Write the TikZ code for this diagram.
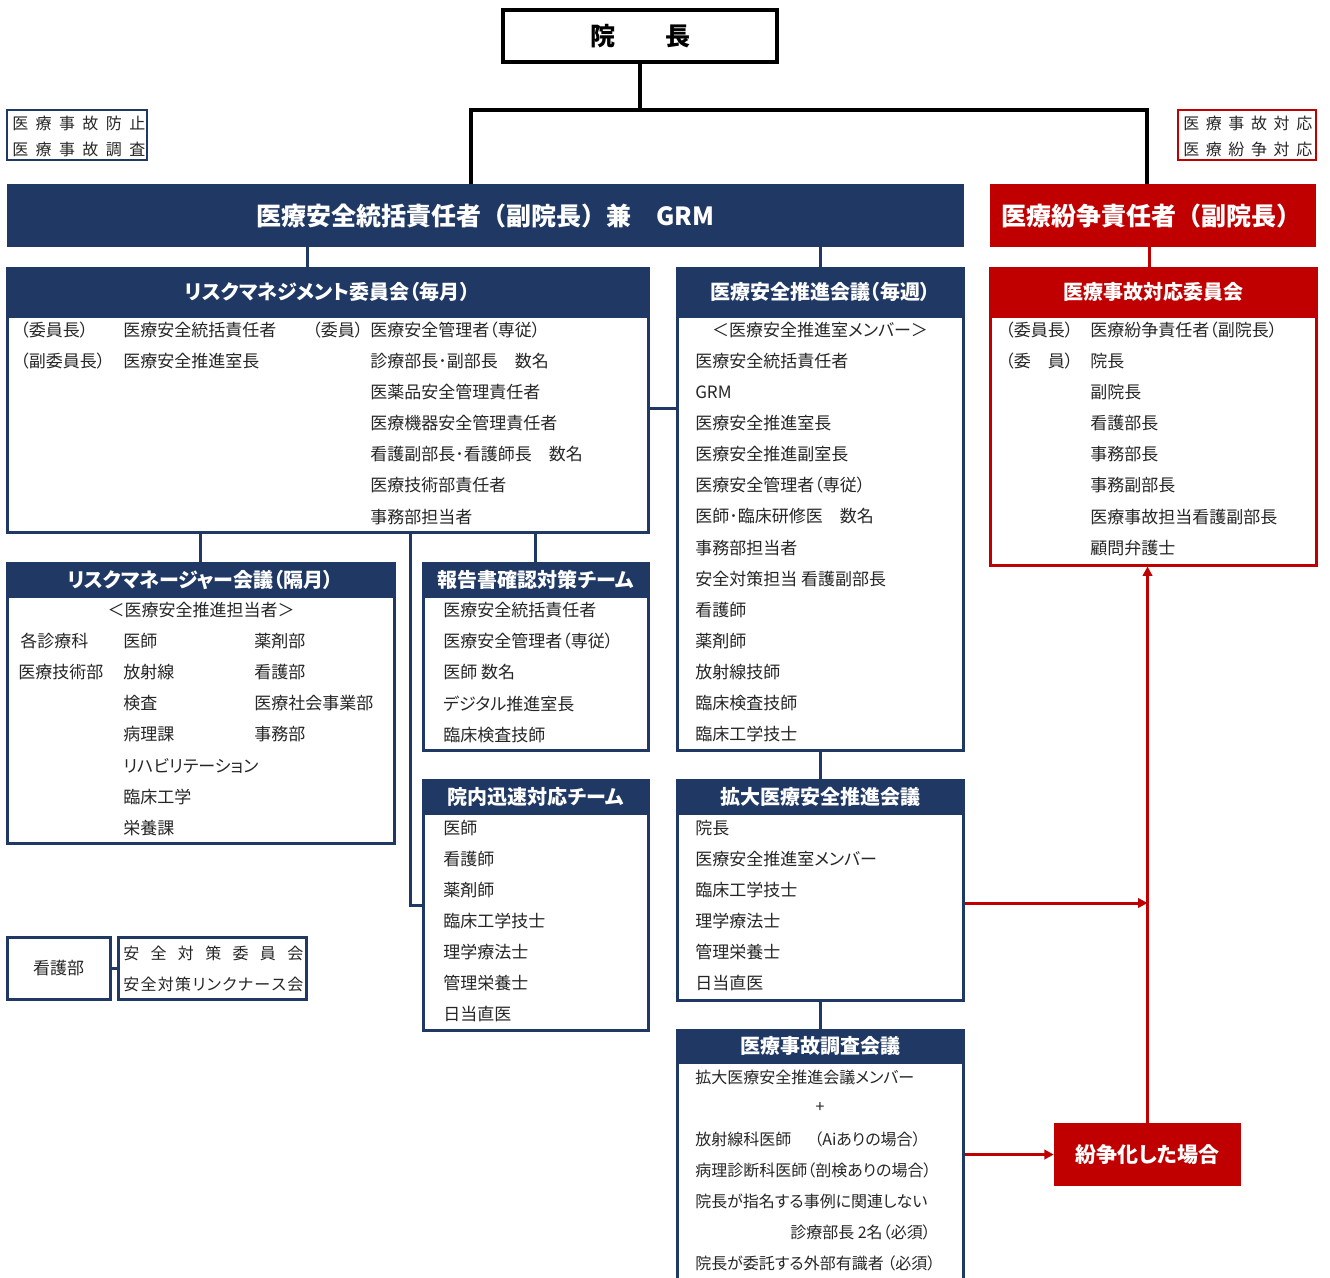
\documentclass[tikz,border=0pt]{standalone}
\usepackage{fontspec}
\setmainfont{Noto Sans CJK JP}[RawFeature={+palt}]
\usetikzlibrary{fit,arrows.meta}
\definecolor{navy}{HTML}{203864}
\definecolor{dred}{HTML}{C00000}
\definecolor{txtc}{HTML}{262626}
\begin{document}
\begin{tikzpicture}[x=0.75pt,y=-0.75pt,
  box/.style={draw=navy, line width=2.25pt, inner sep=0, fill=white},
  rbox/.style={draw=dred, line width=2.25pt, inner sep=0, fill=white},
  hdr/.style={fill=navy, draw=navy, line width=2.25pt, inner sep=0},
  rhdr/.style={hdr, fill=dred, draw=dred},
  ttl/.style={inner sep=0, text=white, font=\fontsize{15}{18}\selectfont\bfseries},
  btl/.style={inner sep=0, text=white, font=\fontsize{18.75}{22}\selectfont\bfseries\addfontfeature{RawFeature={-palt}}},
  itm/.style={anchor=west, inner sep=0, text=txtc, font=\fontsize{12.75}{15}\selectfont},
  itms/.style={itm, font=\fontsize{12}{14}\selectfont},
  nline/.style={draw=navy, line width=2.25pt},
  rline/.style={draw=dred, line width=2.25pt, -{Triangle[length=7pt,width=7pt]}},
  bline/.style={draw=black, line width=2.6pt}]
\useasboundingbox (0,0) rectangle (1330,1277);

% top
\node[draw=black, line width=2.6pt, inner sep=0, fit={(503,10)(777,62)}] (incho) {};
\node[inner sep=0, font=\fontsize{18.75}{22}\selectfont\bfseries\addfontfeature{RawFeature={-palt}}] (inchot) at (incho.center) {院　　長};
\node[draw=navy, line width=1.5pt, inner sep=0, fit={(7,110)(147,160)}] (boushi) {};
\node[itms] (boushi1) at (12,123) {\makebox[99.75pt]{医\hfill 療\hfill 事\hfill 故\hfill 防\hfill 止}};
\node[itms] (boushi2) at (12,149) {\makebox[99.75pt]{医\hfill 療\hfill 事\hfill 故\hfill 調\hfill 査}};
\node[draw=dred, line width=1.5pt, inner sep=0, fit={(1178,110)(1316,160)}] (funso) {};
\node[itms] (funso1) at (1183,123) {\makebox[96.75pt]{医\hfill 療\hfill 事\hfill 故\hfill 対\hfill 応}};
\node[itms] (funso2) at (1183,149) {\makebox[96.75pt]{医\hfill 療\hfill 紛\hfill 争\hfill 対\hfill 応}};

\node[fill=navy, inner sep=0, fit={(7,184)(964,247)}] (banner) {};
\node[btl] (bannert) at (485,216) {医療安全統括責任者（副院長）兼　GRM};
\node[fill=dred, inner sep=0, fit={(990,184)(1316,247)}] (rbanner) {};
\node[btl] (rbannert) at (1151,216) {医療紛争責任者（副院長）};

\coordinate (bj) at (640,110);
\draw[bline] (incho.south) -- (bj);
\draw[bline] (banner.north -| 471,0) -- (471,110) -- (1147,110) -- (rbanner.north -| 1147,0);

% risk management committee
\node[box, fit={(7,268)(648,532)}] (rm) {};
\node[hdr, fit={(7,268)(648,316)}] (rmh) {};
\node[ttl] (rmht) at (rmh.center) {リスクマネジメント委員会（毎月）};
\node[itm] (rm1) at (20,330) {（委員長）};
\node[itm] (rm2) at (123,330) {医療安全統括責任者};
\node[itm] (rm3) at (20,361) {（副委員長）};
\node[itm] (rm4) at (123,361) {医療安全推進室長};
\node[itm] (rm5) at (312,330) {（委員）};
\foreach \t [count=\i from 0] in {医療安全管理者（専従）, 診療部長･副部長　数名, 医薬品安全管理責任者, 医療機器安全管理責任者, 看護副部長･看護師長　数名, 医療技術部責任者, 事務部担当者}
  \node[itm] (rmm\i) at (370,{330+31.1*\i}) {\t};

% suishin kaigi
\node[box, fit={(677,268)(963,750)}] (sui) {};
\node[hdr, fit={(677,268)(963,316)}] (suih) {};
\node[ttl] (suiht) at (suih.center) {医療安全推進会議（毎週）};
\node[itm, anchor=center] (sui0) at (820,330) {＜医療安全推進室メンバー＞};
\foreach \t [count=\i from 1] in {医療安全統括責任者, GRM, 医療安全推進室長, 医療安全推進副室長, 医療安全管理者（専従）, 医師･臨床研修医　数名, 事務部担当者, 安全対策担当 看護副部長, 看護師, 薬剤師, 放射線技師, 臨床検査技師, 臨床工学技士}
  \node[itm] (sui\i) at (695,{330+31.08*\i}) {\t};

% jiko taiou iinkai
\node[rbox, fit={(990,268)(1316,565)}] (taiou) {};
\node[rhdr, fit={(990,268)(1316,316)}] (taiouh) {};
\node[ttl] (taiouht) at (taiouh.center) {医療事故対応委員会};
\node[itm] (ta1) at (1005,330) {（委員長）};
\node[itm] (ta2) at (1005,361) {（委　員）};
\foreach \t [count=\i from 0] in {医療紛争責任者（副院長）, 院長, 副院長, 看護部長, 事務部長, 事務副部長, 医療事故担当看護副部長, 顧問弁護士}
  \node[itm] (tam\i) at (1090,{330+31.1*\i}) {\t};

% risk manager kaigi
\node[box, fit={(7,563)(394,843)}] (rmg) {};
\node[hdr, fit={(7,563)(394,596)}] (rmgh) {};
\node[ttl] (rmght) at (rmgh.center) {リスクマネージャー会議（隔月）};
\node[itm, anchor=center] (rmg0) at (201,610) {＜医療安全推進担当者＞};
\node[itm] (rmga) at (20,641) {各診療科};
\node[itm] (rmgb) at (18,672) {医療技術部};
\foreach \t [count=\i from 0] in {医師, 放射線, 検査, 病理課, リハビリテーション, 臨床工学, 栄養課}
  \node[itm] (rmgm\i) at (123,{641+31.17*\i}) {\t};
\foreach \t [count=\i from 0] in {薬剤部, 看護部, 医療社会事業部, 事務部}
  \node[itm] (rmgn\i) at (254,{641+31.17*\i}) {\t};

% houkokusho team
\node[box, fit={(423,563)(648,750)}] (hok) {};
\node[hdr, fit={(423,563)(648,596)}] (hokh) {};
\node[ttl] (hokht) at (hokh.center) {報告書確認対策チーム};
\foreach \t [count=\i from 0] in {医療安全統括責任者, 医療安全管理者（専従）, 医師 数名, デジタル推進室長, 臨床検査技師}
  \node[itm] (hok\i) at (443,{610+31.2*\i}) {\t};

% jinsoku team
\node[box, fit={(423,780)(648,1030)}] (jin) {};
\node[hdr, fit={(423,780)(648,813)}] (jinh) {};
\node[ttl] (jinht) at (jinh.center) {院内迅速対応チーム};
\foreach \t [count=\i from 0] in {医師, 看護師, 薬剤師, 臨床工学技士, 理学療法士, 管理栄養士, 日当直医}
  \node[itm] (jin\i) at (443,{828+31*\i}) {\t};

% kakudai
\node[box, fit={(677,780)(963,1000)}] (kak) {};
\node[hdr, fit={(677,780)(963,813)}] (kakh) {};
\node[ttl] (kakht) at (kakh.center) {拡大医療安全推進会議};
\foreach \t [count=\i from 0] in {院長, 医療安全推進室メンバー, 臨床工学技士, 理学療法士, 管理栄養士, 日当直医}
  \node[itm] (kak\i) at (695,{828+31*\i}) {\t};

% chousa
\node[box, fit={(677,1030)(963,1300)}] (cho) {};
\node[hdr, fit={(677,1030)(963,1062)}] (choh) {};
\node[ttl] (choht) at (choh.center) {医療事故調査会議};
\node[itms] (cho1) at (695,1077) {拡大医療安全推進会議メンバー};
\node[itms, anchor=center] (cho2) at (820,1108) {+};
\node[itms] (cho3) at (695,1139) {放射線科医師};
\node[itms] (cho3b) at (814,1139) {（Aiありの場合）};
\node[itms] (cho4) at (695,1170) {病理診断科医師（剖検ありの場合）};
\node[itms] (cho5) at (695,1201) {院長が指名する事例に関連しない};
\node[itms] (cho6) at (790,1232) {診療部長 2名（必須）};
\node[itms] (cho7) at (695,1263) {院長が委託する外部有識者 （必須）};

% funso-ka
\node[fill=dred, inner sep=0, fit={(1054,1123)(1241,1186)}] (fun) {};
\node[ttl, font=\fontsize{15.75}{19}\selectfont\bfseries] (funt) at (fun.center) {紛争化した場合};

% kango
\node[box, fit={(7,937)(110,999)}] (kan) {};
\node[itm, anchor=center] (kant) at (kan.center) {看護部};
\node[box, fit={(118,937)(306,999)}] (anz) {};
\node[itms] (anz1) at (123,953) {\makebox[135pt]{安\hfill 全\hfill 対\hfill 策\hfill 委\hfill 員\hfill 会}};
\node[itms] (anz2) at (123,984) {\makebox[135pt]{安\hfill 全\hfill 対\hfill 策\hfill リ\hfill ン\hfill ク\hfill ナ\hfill ー\hfill ス\hfill 会}};

% navy connectors
\draw[nline] (banner.south -| 307,0) -- (rm.north -| 307,0);
\draw[nline] (banner.south -| sui.north) -- (sui.north);
\draw[nline] (rm.east |- 0,408) -- (sui.west |- 0,408);
\draw[nline] (rm.south -| rmg.north) -- (rmg.north);
\draw[nline] (rm.south -| hok.north) -- (hok.north);
\draw[nline] (rm.south -| 410,0) |- (jin.west);
\draw[nline] (sui.south) -- (kak.north);
\draw[nline] (kak.south) -- (cho.north);
\draw[nline] (kan.east) -- (anz.west);

% red connectors
\draw[draw=dred, line width=2.25pt] (rbanner.south -| 1149,0) -- (taiou.north -| 1149,0);
\draw[rline] (fun.north) -- (taiou.south -| fun.north);
\draw[rline] (kak.east |- 0,903) -- (fun.north |- 0,903);
\draw[rline] (cho.east |- fun.west) -- (fun.west);
\end{tikzpicture}
\end{document}
